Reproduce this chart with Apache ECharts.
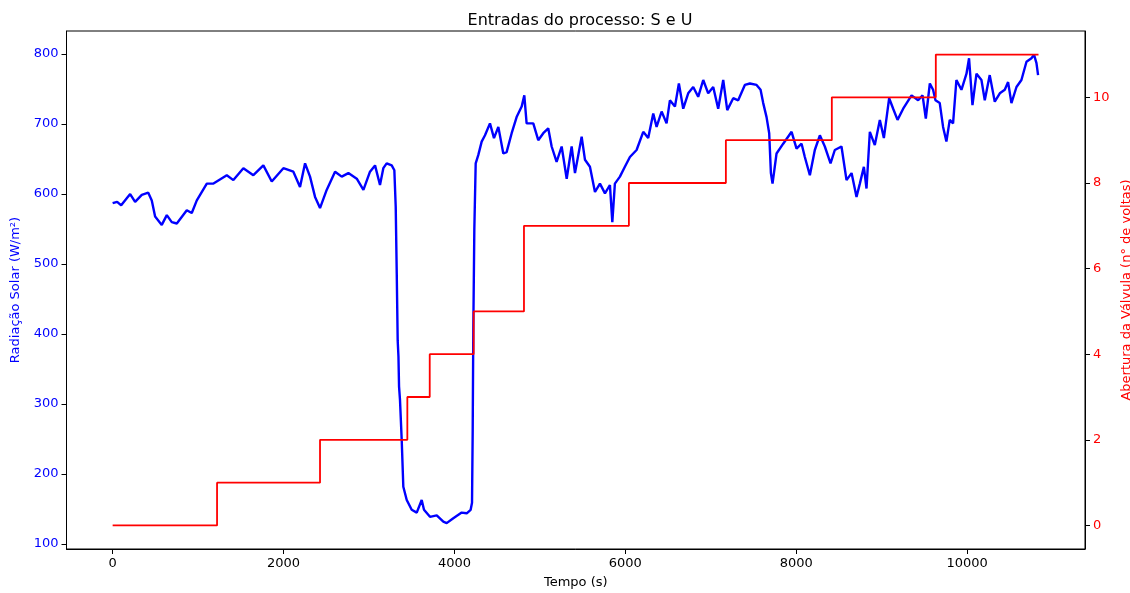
<!DOCTYPE html>
<html>
<head>
<meta charset="utf-8">
<script src="https://cdn.jsdelivr.net/npm/echarts@6/dist/echarts.min.js"></script>
<style>
  html, body { margin: 0; padding: 0; background: #fff; }
  #main { width: 1130px; height: 593px; }
</style>
</head>
<body>
<div id="main"></div>
<script>
// radiacao solar (W/m2)
const solarTime = [
  0, 53, 100, 205, 263, 341, 417, 458, 497, 575, 634, 692, 751, 868, 926, 985,
  1102, 1180, 1336, 1413, 1530, 1647, 1764, 1862, 1998, 2115, 2193, 2252, 2310,
  2369, 2427, 2505, 2603, 2681, 2759, 2857, 2935, 3012, 3071, 3129, 3168, 3207,
  3266, 3297, 3313, 3325, 3336, 3345, 3352, 3363, 3383, 3402, 3442, 3500, 3559,
  3617, 3644, 3714, 3793, 3870, 3909, 3987, 4085, 4144, 4190, 4206, 4214, 4221,
  4233, 4249, 4280, 4319, 4358, 4416, 4463, 4514, 4572, 4611, 4670, 4728, 4787,
  4818, 4845, 4923, 4981, 5040, 5098, 5138, 5196, 5255, 5314, 5372, 5411, 5489,
  5528, 5586, 5645, 5703, 5762, 5820, 5848, 5878, 5937, 5995, 6054, 6132, 6210,
  6268, 6327, 6366, 6425, 6483, 6522, 6581, 6627, 6678, 6736, 6795, 6853, 6912,
  6970, 7029, 7087, 7146, 7193, 7263, 7321, 7399, 7458, 7536, 7583, 7614, 7653,
  7684, 7704, 7723, 7770, 7848, 7946, 8004, 8063, 8101, 8160, 8218, 8277, 8335,
  8402, 8452, 8530, 8589, 8648, 8706, 8745, 8792, 8823, 8862, 8920, 8979, 9026,
  9088, 9135, 9186, 9252, 9350, 9427, 9479, 9517, 9564, 9602, 9630, 9680, 9719,
  9758, 9797, 9836, 9875, 9934, 9993, 10023, 10063, 10110, 10168, 10207, 10265,
  10324, 10383, 10441, 10480, 10519, 10578, 10636, 10695, 10753, 10784, 10812, 10831
]
const solarValue = [
  587, 589, 584, 600, 589, 599, 602, 591, 568, 556, 570, 560, 558, 577, 573, 591,
  615, 615, 627, 620, 637, 627, 641, 618, 637, 632, 610, 644, 625,
  596, 580, 606, 632, 625, 630, 622, 606, 632, 641, 613, 637, 644,
  641, 634, 582, 487, 391, 368, 325, 306, 249, 182, 163, 149, 145,
  163, 149, 139, 141, 132, 130, 137, 145, 144, 149, 159, 263, 406,
  549, 644, 656, 675, 684, 701, 680, 696, 658, 660, 687, 710, 725,
  741, 701, 701, 677, 687, 694, 668, 646, 668, 622, 668, 630, 682,
  649, 639, 603, 615, 601, 613, 560, 615, 625, 639, 653, 663, 689,
  680, 715, 696, 718, 701, 734, 725, 758, 722, 744, 753, 739, 763,
  744, 753, 722, 763, 720, 737, 734, 756, 758, 756, 749, 730, 710,
  687, 630, 615, 658, 672, 689, 665, 672, 653, 627, 663, 684, 668,
  644, 663, 668, 620, 630, 596, 615, 639, 608, 689, 670, 706, 680,
  737, 722, 706, 722, 741, 734, 741, 708, 758, 749, 734, 730, 696,
  675, 706, 701, 763, 749, 772, 794, 727, 772, 763, 734, 770,
  732, 744, 749, 760, 730, 753, 763, 789, 794, 799, 787, 770
]
// abertura da valvula (degraus)
const valveTime = [0, 1222, 2427, 3449, 3711, 4225, 4814, 6042, 7177, 8417, 9634, 10836]
const valveValue = [0, 1, 2, 3, 4, 5, 7, 8, 9, 10, 11, 11]

const xTicks = [0, 2000, 4000, 6000, 8000, 10000]
const leftTicks = [100, 200, 300, 400, 500, 600, 700, 800]
const rightTicks = [0, 2, 4, 6, 8, 10]

const chart = echarts.init(document.getElementById('main'))
const font = 'DejaVu Sans'
const plain = v => String(v)

const option = {
  animation: false,
  backgroundColor: '#fff',
  title: {
    text: 'Entradas do processo: S e U',
    left: 575,
    top: 8,
    textAlign: 'center',
    textStyle: { fontFamily: font, fontSize: 16, fontWeight: 'normal', color: '#000' }
  },
  grid: {
    left: 66.5,
    right: 45,
    top: 31,
    bottom: 44,
    outerBoundsMode: 'none',
    containLabel: false,
    show: true,
    borderColor: '#000',
    borderWidth: 1
  },
  xAxis: {
    type: 'value',
    min: -540,
    max: 11380,
    name: 'Tempo (s)',
    nameLocation: 'middle',
    nameGap: 27,
    nameTextStyle: { fontFamily: font, fontSize: 13, color: '#000' },
    splitLine: { show: false },
    axisLine: { show: true, onZero: false, lineStyle: { color: '#000' } },
    axisTick: { show: true, customValues: xTicks, length: 5, lineStyle: { color: '#000' } },
    axisLabel: { customValues: xTicks, formatter: plain, margin: 8, fontFamily: font, fontSize: 13, color: '#000' }
  },
  yAxis: [
    {
      type: 'value',
      position: 'left',
      min: 93,
      max: 833,
      name: 'Radiação Solar (W/m²)',
      nameLocation: 'middle',
      nameGap: 44,
      nameTextStyle: { fontFamily: font, fontSize: 13, color: '#0000ff' },
      splitLine: { show: false },
      axisLine: { show: true, onZero: false, lineStyle: { color: '#000' } },
      axisTick: { show: true, customValues: leftTicks, length: 5, lineStyle: { color: '#000' } },
      axisLabel: { customValues: leftTicks, formatter: plain, margin: 8, fontFamily: font, fontSize: 13, color: '#0000ff' }
    },
    {
      type: 'value',
      position: 'right',
      min: -0.55,
      max: 11.55,
      name: 'Abertura da Válvula (n° de voltas)',
      nameLocation: 'middle',
      nameGap: 30,
      nameTextStyle: { fontFamily: font, fontSize: 13, color: '#ff0000' },
      splitLine: { show: false },
      axisLine: { show: true, onZero: false, lineStyle: { color: '#000' } },
      axisTick: { show: true, customValues: rightTicks, length: 5, lineStyle: { color: '#000' } },
      axisLabel: { customValues: rightTicks, formatter: plain, margin: 8, fontFamily: font, fontSize: 13, color: '#ff0000' }
    }
  ],
  series: [
    {
      type: 'line',
      yAxisIndex: 0,
      data: solarTime.map((t, i) => [t, solarValue[i]]),
      showSymbol: false,
      symbol: 'none',
      lineStyle: { color: '#0000ff', width: 2.4 }
    },
    {
      type: 'line',
      yAxisIndex: 1,
      step: 'end',
      data: valveTime.map((t, i) => [t, valveValue[i]]),
      showSymbol: false,
      symbol: 'none',
      lineStyle: { color: '#ff0000', width: 1.8 }
    }
  ]
}
chart.setOption(option)
</script>
</body>
</html>
